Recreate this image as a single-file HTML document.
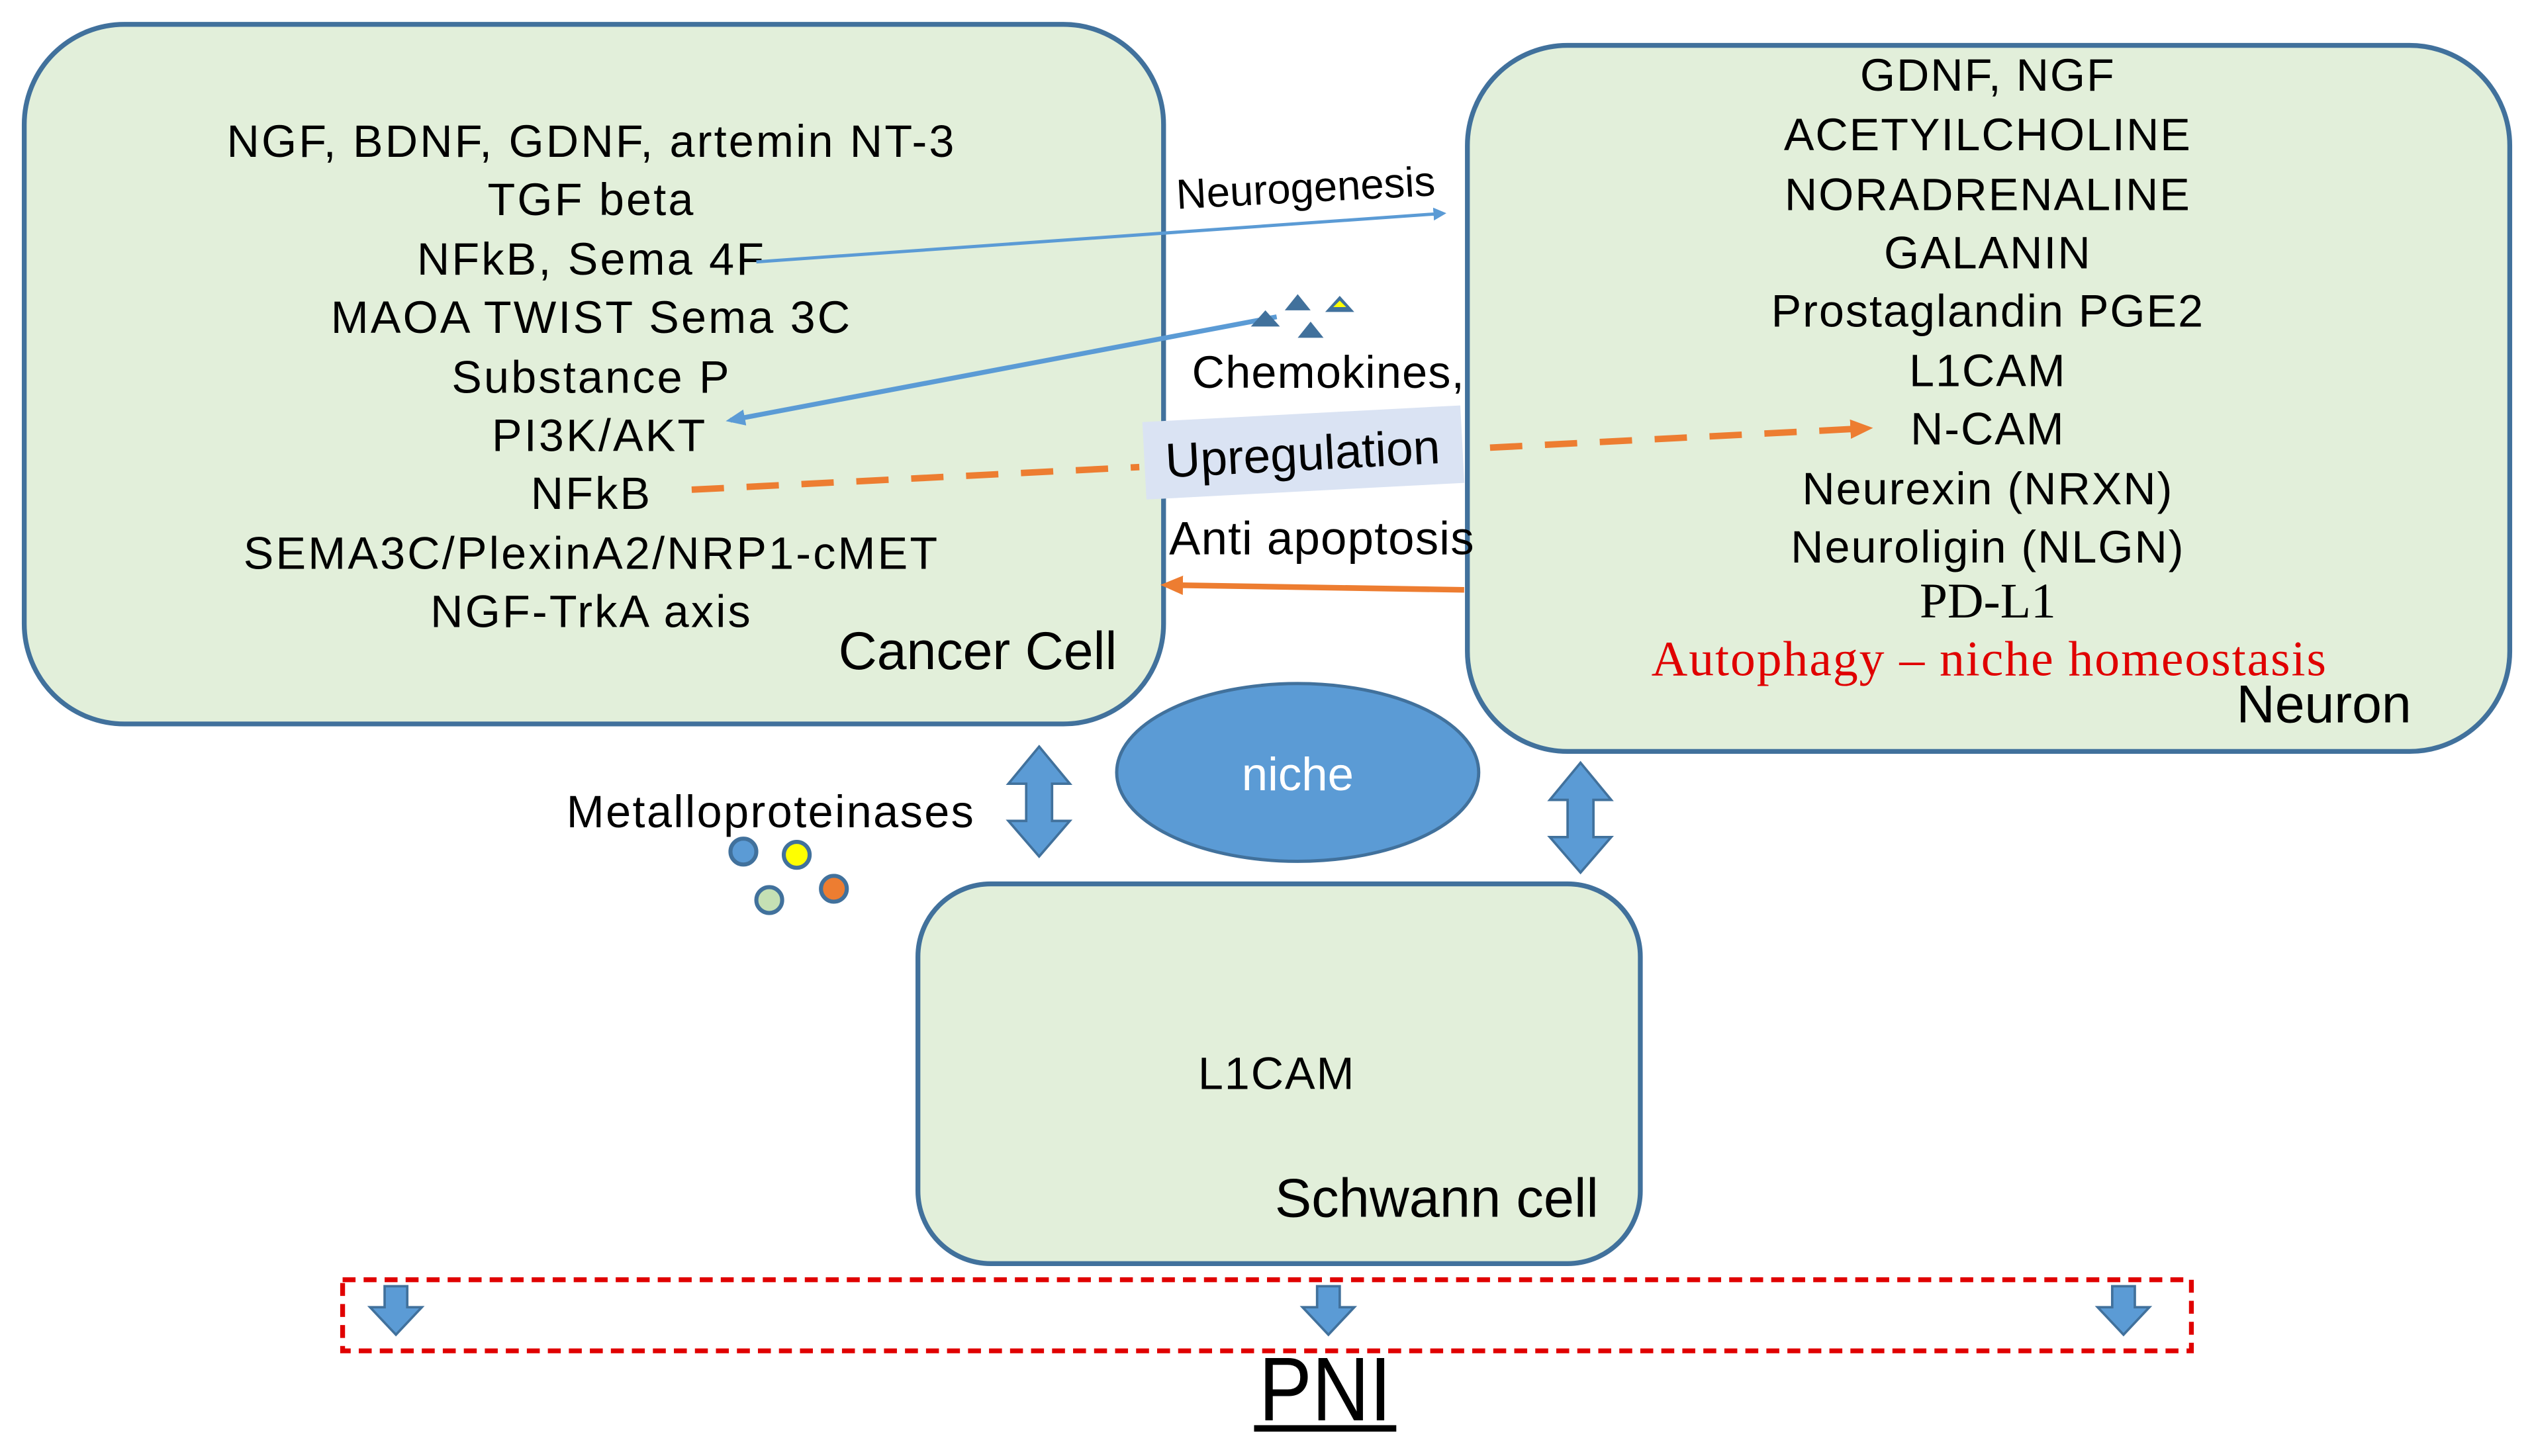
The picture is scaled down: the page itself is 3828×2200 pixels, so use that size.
<!DOCTYPE html>
<html><head><meta charset="utf-8"><style>
html,body{margin:0;padding:0;background:#fff;width:3828px;height:2200px;overflow:hidden}
svg{display:block}
text{font-family:"Liberation Sans",sans-serif;fill:#000}
.s{font-family:"Liberation Serif",serif}
</style></head><body>
<svg width="3828" height="2200" viewBox="0 0 1568 901" xmlns="http://www.w3.org/2000/svg">
<defs>
<marker id="ab" markerWidth="8" markerHeight="8" refX="6" refY="4" orient="auto" markerUnits="userSpaceOnUse"><path d="M0,0 L8,4 L0,8 z" fill="#5B9BD5"/></marker>
<marker id="ab2" markerWidth="12" markerHeight="10" refX="9" refY="5" orient="auto" markerUnits="userSpaceOnUse"><path d="M0,0 L12,5 L0,10 z" fill="#5B9BD5"/></marker>
<marker id="ao" markerWidth="14" markerHeight="12" refX="10" refY="6" orient="auto" markerUnits="userSpaceOnUse"><path d="M0,0 L14,6 L0,12 z" fill="#ED7D31"/></marker>
</defs>
<rect x="15" y="15" width="705" height="433" rx="62" fill="#E2EFDA" stroke="#41719C" stroke-width="3"/>
<rect x="908" y="28" width="645" height="437" rx="62" fill="#E2EFDA" stroke="#41719C" stroke-width="3"/>
<rect x="568" y="547" width="447" height="235" rx="45" fill="#E2EFDA" stroke="#41719C" stroke-width="3"/>
<ellipse cx="803" cy="478" rx="112" ry="55" fill="#5B9BD5" stroke="#41719C" stroke-width="2"/>
<text x="803" y="489" font-size="29" style="fill:#fff" text-anchor="middle">niche</text>
<g font-size="28" letter-spacing="1.3" text-anchor="middle">
<text x="366" y="97">NGF, BDNF, GDNF, artemin NT-3</text>
<text x="366" y="133">TGF beta</text>
<text x="366" y="170">NFkB, Sema 4F</text>
<text x="366" y="206">MAOA TWIST Sema  3C</text>
<text x="366" y="243">Substance P</text>
<text x="371" y="279">PI3K/AKT</text>
<text x="366" y="315">NFkB</text>
<text x="366" y="352">SEMA3C/PlexinA2/NRP1-cMET</text>
<text x="366" y="388">NGF-TrkA axis</text>
</g>
<text x="605" y="414" font-size="33" text-anchor="middle">Cancer Cell</text>
<g font-size="28" letter-spacing="0.8" text-anchor="middle">
<text x="1230" y="56">GDNF,  NGF</text>
<text x="1230" y="93">ACETYILCHOLINE</text>
<text x="1230" y="130">NORADRENALINE</text>
<text x="1230" y="166">GALANIN</text>
<text x="1230" y="202">Prostaglandin PGE2</text>
<text x="1230" y="239">L1CAM</text>
<text x="1230" y="275">N-CAM</text>
<text x="1230" y="312">Neurexin (NRXN)</text>
<text x="1230" y="348">Neuroligin (NLGN)</text>
</g>
<g text-anchor="middle">
<text x="1230" y="382" class="s" font-size="31">PD-L1</text>
<text x="1231" y="418" class="s" font-size="31" letter-spacing="0.8" style="fill:#E00000">Autophagy – niche homeostasis</text>
</g>
<text x="1438" y="447" font-size="33" text-anchor="middle">Neuron</text>
<text x="808" y="125" font-size="26" text-anchor="middle" transform="rotate(-3 808 118)">Neurogenesis</text>
<line x1="468" y1="162" x2="893" y2="132" stroke="#5B9BD5" stroke-width="2" marker-end="url(#ab)"/>
<line x1="790" y1="196" x2="452" y2="260" stroke="#5B9BD5" stroke-width="3" marker-end="url(#ab2)"/>
<g fill="#41719C">
<path d="M774,202 L783,192 L792,202 z"/><path d="M795,192 L803,182 L811,192 z"/><path d="M820,193 L829,183 L838,193 z"/><path d="M803,209 L811,199 L819,209 z"/>
</g>
<path d="M825,190 L829,186 L833,190 z" fill="#ff0"/>
<text x="822" y="240" font-size="28" letter-spacing="0.5" text-anchor="middle">Chemokines,</text>
<g transform="rotate(-3 806 280)"><rect x="708" y="256" width="197" height="48" fill="#DAE3F3"/>
<text x="806" y="291" font-size="30" text-anchor="middle">Upregulation</text></g>
<line x1="428" y1="303" x2="705" y2="289" stroke="#ED7D31" stroke-width="4" stroke-dasharray="20 14"/>
<line x1="922" y1="277" x2="1155" y2="265" stroke="#ED7D31" stroke-width="4" stroke-dasharray="20 14" marker-end="url(#ao)"/>
<text x="818" y="343" font-size="29" letter-spacing="0.5" text-anchor="middle">Anti apoptosis</text>
<line x1="906" y1="365" x2="722" y2="362" stroke="#ED7D31" stroke-width="3.5" marker-end="url(#ao)"/>
<text x="477" y="512" font-size="28" letter-spacing="1" text-anchor="middle">Metalloproteinases</text>
<g stroke="#41719C" stroke-width="2.5">
<circle cx="460" cy="527" r="8" fill="#5B9BD5"/><circle cx="493" cy="529" r="8" fill="#FFFF00"/>
<circle cx="476" cy="557" r="8" fill="#C5E0B4"/><circle cx="516" cy="550" r="8" fill="#ED7D31"/>
</g>
<g fill="#5B9BD5" stroke="#41719C" stroke-width="1.5">
<path d="M643,462 L662,485 L651,485 L651,508 L662,508 L643,530 L624,508 L635,508 L635,485 L624,485 z"/>
<path d="M978,472 L997,495 L986,495 L986,518 L997,518 L978,540 L959,518 L970,518 L970,495 L959,495 z"/>
<path d="M238,796 L252,796 L252,809 L261,809 L245,826 L229,809 L238,809 z"/>
<path d="M815,796 L829,796 L829,809 L838,809 L822,826 L806,809 L815,809 z"/>
<path d="M1307,796 L1321,796 L1321,809 L1330,809 L1314,826 L1298,809 L1307,809 z"/>
</g>
<text x="790" y="674" font-size="28" letter-spacing="0.8" text-anchor="middle">L1CAM</text>
<text x="889" y="753" font-size="34" text-anchor="middle">Schwann cell</text>
<rect x="212" y="792" width="1144" height="44" fill="none" stroke="#E00000" stroke-width="3" stroke-dasharray="8 5"/>
<text x="0" y="0" font-size="56" text-anchor="middle" transform="translate(820 879) scale(0.88 1)">PNI</text>
<rect x="776" y="882" width="88" height="4" fill="#000"/>
</svg>
</body></html>
